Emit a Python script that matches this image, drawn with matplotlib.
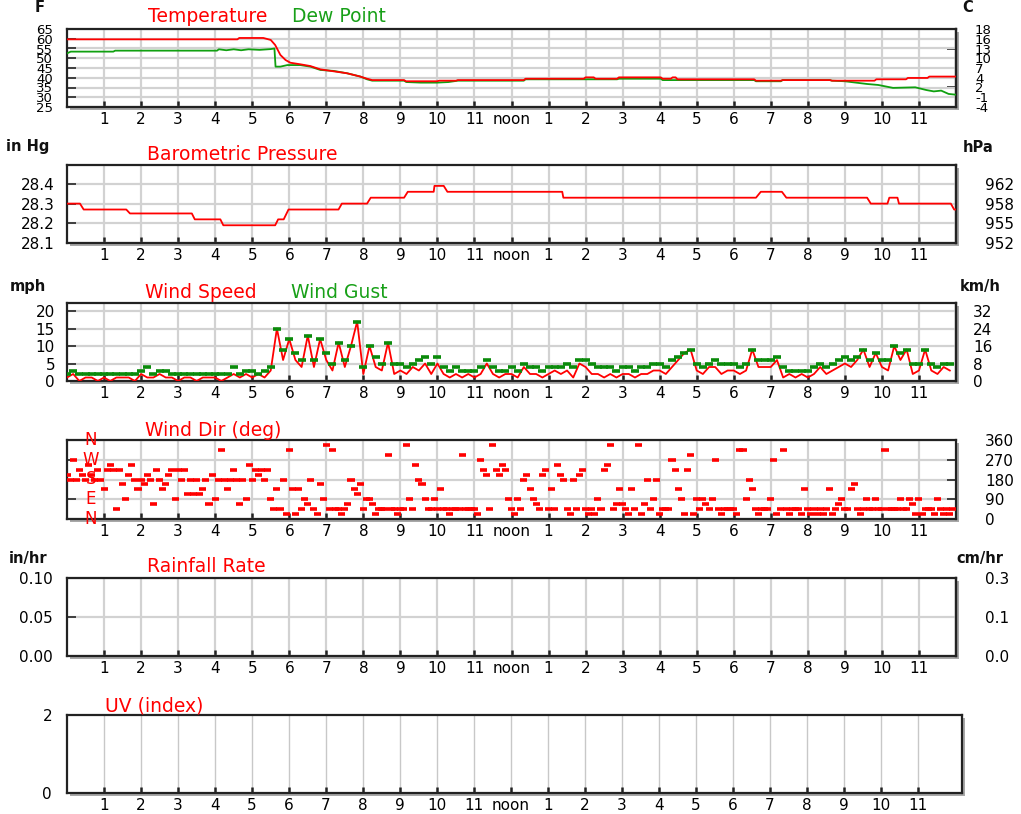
import numpy as np
import matplotlib
matplotlib.use("Agg")
import matplotlib.pyplot as plt
from matplotlib.patches import Rectangle
from matplotlib.transforms import offset_copy
from matplotlib.ticker import FuncFormatter

# ---------------------------------------------------------------- data
hour_ticks = list(range(1, 24))
hour_labels = [str(h) for h in range(1, 12)] + ["noon"] + [str(h) for h in range(1, 12)]

# temperature / dew point (deg F), breakpoints over the day (hours)
temp_hours = [0, 4.6, 4.65, 5.3, 5.5, 5.62, 5.76, 5.9, 6.03, 6.3, 6.57, 6.84, 7.2, 7.56,
              7.92, 8.1, 8.24, 9.1, 9.15, 9.99, 10.05, 10.5, 10.55, 12.33, 12.38, 13.95,
              14.0, 14.22, 14.27, 14.85, 14.9, 16.03, 16.08, 16.3, 16.35, 16.43, 16.48,
              18.55, 18.6, 19.27, 19.32, 20.6, 20.65, 21.8, 21.85, 22.65, 22.7, 23.23,
              23.28, 24]
temp_f = [59.7, 59.7, 60.4, 60.4, 59.4, 56.8, 51.7, 49.1, 47.7, 46.9, 46.0, 44.3, 43.3, 42.3,
          40.6, 39.5, 38.8, 38.8, 38.2, 38.2, 38.5, 38.5, 38.8, 38.8, 39.5, 39.5,
          40.2, 40.2, 39.5, 39.5, 40.2, 40.2, 39.5, 39.5, 40.2, 40.2, 39.2,
          39.2, 38.5, 38.5, 38.8, 38.8, 38.5, 38.5, 39.2, 39.2, 39.9, 39.9,
          40.6, 40.6]

dew_hours = [0, 0.1, 1.25, 1.3, 4.05, 4.1, 4.3, 4.5, 4.7, 4.9, 5.2, 5.5, 5.6, 5.63, 5.76,
             5.95, 6.3, 6.57, 6.84, 7.2, 7.56, 7.92, 8.1, 8.24, 9.1, 9.16, 9.55, 9.99,
             10.3, 10.55, 12.33, 12.38, 14.85, 14.9, 16.03, 16.08, 18.55, 18.6, 19.27,
             19.32, 20.6, 20.65, 21.0, 21.6, 21.9, 22.3, 22.9, 23.2, 23.4, 23.6, 23.8, 24]
dew_f = [52.5, 53.4, 53.4, 53.9, 53.9, 54.6, 54.1, 54.6, 54.1, 54.6, 54.3, 54.7, 55.0, 45.7,
         45.7, 46.5, 46.5, 45.7, 44.0, 43.5, 42.3, 40.6, 39.2, 38.5, 38.5, 37.8, 37.5, 37.5,
         37.8, 38.5, 38.5, 39.2, 39.2, 39.5, 39.5, 38.8, 38.8, 38.2, 38.2,
         38.8, 38.8, 38.5, 38.2, 36.8, 36.3, 34.8, 35.1, 33.7, 33.0, 33.4, 31.7, 31.3]

# barometric pressure (in Hg)
press_hours = [0, 0.35, 0.45, 1.6, 1.7, 3.37, 3.45, 4.14, 4.22, 5.62, 5.7, 5.85, 5.98, 7.33,
               7.42, 8.1, 8.2, 9.1, 9.2, 9.9, 9.92, 10.17, 10.27, 13.37, 13.4, 18.6, 18.73,
               19.3, 19.42, 21.6, 21.7, 22.15, 22.2, 22.42, 22.46, 23.86, 23.95, 24]
press_inhg = [28.30, 28.30, 28.27, 28.27, 28.25, 28.25, 28.22, 28.22, 28.19, 28.19, 28.22,
              28.22, 28.27, 28.27, 28.30, 28.30, 28.33, 28.33, 28.36, 28.36, 28.39, 28.39,
              28.36, 28.36, 28.33, 28.33, 28.36, 28.36, 28.33, 28.33, 28.30, 28.30, 28.33,
              28.33, 28.30, 28.30, 28.27, 28.27]

# wind, 10-minute readings (mph)
gust_mph = [2, 3, 2, 2, 2, 2,   2, 2, 2, 2, 2, 2,   3, 4, 2, 3, 3, 2,   2, 2, 2, 2, 2, 2,
            2, 2, 2, 4, 2, 3,   3, 2, 3, 4, 15, 9,  12, 8, 6, 13, 6, 12, 8, 5, 11, 6, 10, 17,
            4, 10, 7, 5, 11, 5, 5, 4, 5, 6, 7, 5,   7, 4, 3, 4, 3, 3,   3, 4, 6, 4, 3, 3,
            4, 3, 5, 4, 4, 3,   4, 4, 4, 5, 4, 6,   6, 5, 4, 4, 4, 3,   4, 4, 3, 4, 4, 5,
            5, 4, 6, 7, 8, 9,   5, 4, 5, 6, 5, 5,   5, 4, 5, 9, 6, 6,   6, 7, 4, 3, 3, 3,
            3, 4, 5, 4, 5, 6,   7, 6, 7, 9, 6, 8,   6, 6, 10, 8, 9, 5,  5, 9, 5, 4, 5, 5]
speed_mph = [1, 2, 0, 1, 1, 0,  1, 0, 1, 1, 1, 0,   2, 1, 1, 2, 1, 1,   0, 1, 1, 0, 1, 1,
             1, 0, 1, 2, 1, 2,  1, 2, 1, 3, 15, 6,  12, 6, 4, 13, 4, 12, 6, 3, 11, 4, 10, 17,
             2, 10, 4, 3, 11, 2, 3, 2, 4, 3, 5, 2,  5, 2, 1, 2, 1, 2,   1, 2, 5, 2, 1, 2,
             2, 1, 4, 2, 2, 1,  2, 3, 2, 3, 1, 5,   4, 2, 2, 1, 2, 1,   2, 2, 1, 2, 2, 3,
             3, 2, 4, 6, 8, 9,  3, 2, 4, 4, 2, 3,   3, 2, 3, 9, 4, 4,   4, 6, 1, 2, 1, 2,
             1, 2, 4, 2, 3, 4,  5, 4, 6, 9, 4, 8,   4, 3, 10, 6, 9, 2,  3, 9, 3, 2, 4, 3]

# wind direction, 5-minute readings (degrees)
wind_dir_deg = [
    202.5, 180, 270, 180, 225, 202.5, 180, 247.5, 202.5, 180, 225, 180,
    135, 225, 247.5, 225, 45, 225, 157.5, 90, 202.5, 247.5, 180, 135,
    180, 157.5, 202.5, 180, 67.5, 225, 180, 135, 157.5, 202.5, 225, 90,
    225, 180, 225, 112.5, 180, 112.5, 180, 112.5, 135, 180, 67.5, 202.5,
    90, 180, 315, 180, 135, 180, 225, 180, 67.5, 180, 90, 247.5,
    180, 225, 202.5, 225, 180, 225, 90, 45, 135, 45, 180, 22.5,
    315, 135, 22.5, 135, 45, 90, 67.5, 180, 45, 22.5, 157.5, 90,
    337.5, 45, 315, 45, 45, 22.5, 45, 67.5, 180, 135, 112.5, 157.5,
    45, 90, 90, 67.5, 22.5, 45, 45, 45, 292.5, 45, 45, 22.5,
    45, 45, 337.5, 90, 45, 247.5, 180, 157.5, 90, 45, 45, 90,
    45, 135, 45, 45, 22.5, 45, 45, 45, 292.5, 45, 45, 45,
    45, 22.5, 270, 225, 202.5, 45, 337.5, 225, 202.5, 247.5, 225, 90,
    45, 22.5, 90, 45, 180, 202.5, 135, 90, 67.5, 45, 202.5, 225,
    45, 135, 45, 247.5, 202.5, 180, 45, 22.5, 180, 45, 202.5, 225,
    45, 22.5, 45, 22.5, 90, 45, 225, 247.5, 337.5, 45, 67.5, 135,
    67.5, 45, 22.5, 135, 45, 337.5, 22.5, 67.5, 180, 45, 90, 180,
    22.5, 45, 45, 45, 270, 225, 135, 90, 22.5, 225, 292.5, 22.5,
    90, 45, 90, 67.5, 45, 90, 270, 45, 22.5, 45, 45, 45,
    45, 22.5, 315, 315, 90, 180, 135, 45, 22.5, 45, 45, 45,
    90, 270, 22.5, 45, 315, 45, 22.5, 45, 45, 45, 22.5, 135,
    45, 22.5, 45, 22.5, 45, 22.5, 45, 135, 22.5, 45, 67.5, 90,
    45, 45, 135, 157.5, 45, 22.5, 45, 90, 45, 45, 90, 45,
    45, 315, 45, 45, 45, 45, 90, 45, 45, 90, 67.5, 22.5,
    90, 22.5, 45, 45, 45, 22.5, 90, 45, 22.5, 45, 22.5, 45]

compass_labels = ["N", "E", "S", "W", "N"]
compass_deg = [0, 90, 180, 270, 360]

# ---------------------------------------------------------------- layout helpers
W, H, DPI = 1021, 814, 100
plt.rcParams["font.family"] = ["DejaVu Sans"]
fig = plt.figure(figsize=(W / DPI, H / DPI), dpi=DPI)
fig.patch.set_facecolor("white")

GRID = "#d2d2d2"
DARK = "#222222"
RED = "#ff0000"
GREEN_TXT = "#18a018"
GUST = "#0a8a0a"
PT = 72.0 / DPI  # points per pixel


def fx(x):
    return x / W


def fy(y):
    return 1 - y / H


def panel(top, bottom, left=67, right=956, xmax=24.0):
    ax = fig.add_axes([fx(left), fy(bottom), (right - left) / W, (bottom - top) / H])
    ax.set_xlim(0, xmax)
    ax.set_xticks(hour_ticks)
    ax.set_xticklabels(hour_labels)
    ax.tick_params(axis="x", direction="in", length=4, width=1.8, color=DARK,
                   pad=5 * PT, labelsize=11)
    ax.tick_params(axis="y", direction="in", length=9 * PT, width=1.3, color="#333333",
                   labelsize=11)
    for s in ax.spines.values():
        s.set_linewidth(1.6)
        s.set_color(DARK)
    ax.set_axisbelow(True)
    # drop shadow behind the box
    fig.add_artist(Rectangle((0, 0), 1, 1, facecolor="#a8a8a8", edgecolor="none",
                             transform=offset_copy(ax.transAxes, fig=fig, x=3, y=-3,
                                                   units="dots"),
                             zorder=-1))
    return ax


def right_scale(ax, fwd, inv, ticks, fmt, pad_px, size=11):
    sec = ax.secondary_yaxis("right", functions=(fwd, inv))
    sec.set_yticks([fwd(t) for t in ticks])
    sec.yaxis.set_major_formatter(FuncFormatter(lambda v, p: fmt.format(v)))
    sec.tick_params(direction="in", length=9 * PT, width=1.3, color="#333333",
                    labelsize=size, pad=pad_px * PT)
    sec.spines["right"].set_linewidth(1.6)
    sec.spines["right"].set_color(DARK)
    return sec


def unit(x, y, s):
    fig.text(fx(x), fy(y), s, ha="center", va="center", fontsize=10.5,
             color="#111111", fontweight="bold")


def title(x, y, s, color):
    fig.text(fx(x), fy(y), s, ha="left", va="center", fontsize=13.5, color=color)


# ---------------------------------------------------------------- temperature
ax1 = panel(29, 107)
temp_ticks = [25, 30, 35, 40, 45, 50, 55, 60, 65]
ax1.set_ylim(25, 65)
ax1.set_yticks(temp_ticks)
ax1.tick_params(axis="y", labelsize=9.5, pad=14 * PT)
ax1.grid(True, color=GRID, lw=1.6)
ax1.plot(dew_hours, dew_f, color="#10a010", lw=1.3, zorder=3)
ax1.plot(temp_hours, temp_f, color=RED, lw=1.3, zorder=4)
right_scale(ax1, lambda f: (np.asarray(f) - 32) * 5 / 9, lambda c: np.asarray(c) * 9 / 5 + 32,
            temp_ticks, "{:.0f}", 19, size=9.5)
unit(40, 8, "F")
unit(968, 8, "C")
title(148, 17, "Temperature", RED)
title(292, 17, "Dew Point", GREEN_TXT)

# ---------------------------------------------------------------- pressure
ax2 = panel(165, 243)
press_ticks = [28.1, 28.2, 28.3, 28.4]
ax2.set_ylim(28.1, 28.496)
ax2.set_yticks(press_ticks)
ax2.set_yticklabels([f"{v:.1f}" for v in press_ticks])
ax2.tick_params(axis="y", pad=12 * PT)
ax2.grid(True, color=GRID, lw=1.6)
ax2.plot(press_hours, press_inhg, color=RED, lw=1.3, zorder=3)
right_scale(ax2, lambda p: np.asarray(p) * 33.8639, lambda h: np.asarray(h) / 33.8639,
            press_ticks, "{:.0f}", 29)
unit(28, 147, "in Hg")
unit(978, 148, "hPa")
title(147, 155, "Barometric Pressure", RED)

# ---------------------------------------------------------------- wind speed / gust
ax3 = panel(303, 381)
wind_ticks = [0, 5, 10, 15, 20]
ax3.set_ylim(0, 22.3)
ax3.set_yticks(wind_ticks)
ax3.tick_params(axis="y", pad=12 * PT)
ax3.grid(True, color=GRID, lw=1.6)
wind_hours = np.arange(len(gust_mph)) / 6
ax3.plot(wind_hours, speed_mph, color=RED, lw=1.3, zorder=3)
# gust readings drawn as short horizontal caps
ax3.plot(wind_hours, gust_mph, ls="none", marker="_", ms=7.5 * PT, mew=3.6 * PT,
         color=GUST, zorder=5)
right_scale(ax3, lambda m: np.asarray(m) * 1.609344, lambda k: np.asarray(k) / 1.609344,
            wind_ticks, "{:.0f}", 17)
unit(28, 287, "mph")
unit(980, 287, "km/h")
title(145, 292, "Wind Speed", RED)
title(291, 292, "Wind Gust", GREEN_TXT)

# ---------------------------------------------------------------- wind direction
ax4 = panel(440, 519)
ax4.set_ylim(0, 360)
ax4.set_yticks(compass_deg)
ax4.tick_params(axis="y", labelleft=False, labelright=True, right=True, pad=29 * PT)
ax4.grid(True, color=GRID, lw=1.6)
dir_hours = np.arange(len(wind_dir_deg)) / 12
ax4.hlines(wind_dir_deg, dir_hours - 0.095, dir_hours + 0.095, colors=RED, lw=2.6, zorder=4)
for lab, deg in zip(compass_labels, compass_deg):
    ax4.text(0.027, deg, lab, transform=ax4.get_yaxis_transform(), color=RED,
             ha="center", va="center", fontsize=12, zorder=3, clip_on=False)
title(145, 430, "Wind Dir (deg)", RED)

# ---------------------------------------------------------------- rainfall rate
ax5 = panel(578, 656)
rain_ticks = [0.0, 0.05, 0.10]
ax5.set_ylim(0, 0.10)
ax5.set_yticks(rain_ticks)
ax5.set_yticklabels([f"{v:.2f}" for v in rain_ticks])
ax5.tick_params(axis="y", pad=14 * PT)
ax5.grid(True, color=GRID, lw=1.6)
right_scale(ax5, lambda r: np.asarray(r) * 2.54, lambda c: np.asarray(c) / 2.54,
            rain_ticks, "{:.1f}", 29)
unit(28, 559, "in/hr")
unit(980, 559, "cm/hr")
title(147, 567, "Rainfall Rate", RED)

# ---------------------------------------------------------------- UV index
ax6 = panel(715, 793, right=962, xmax=(962 - 67) / 37)
ax6.set_ylim(0, 2)
ax6.set_yticks([0, 2])
ax6.tick_params(axis="y", pad=15 * PT)
ax6.grid(True, axis="x", color="#c8c8c8", lw=1.0)
title(105, 706, "UV (index)", RED)

fig.savefig("out.png", dpi=DPI, facecolor="white")
